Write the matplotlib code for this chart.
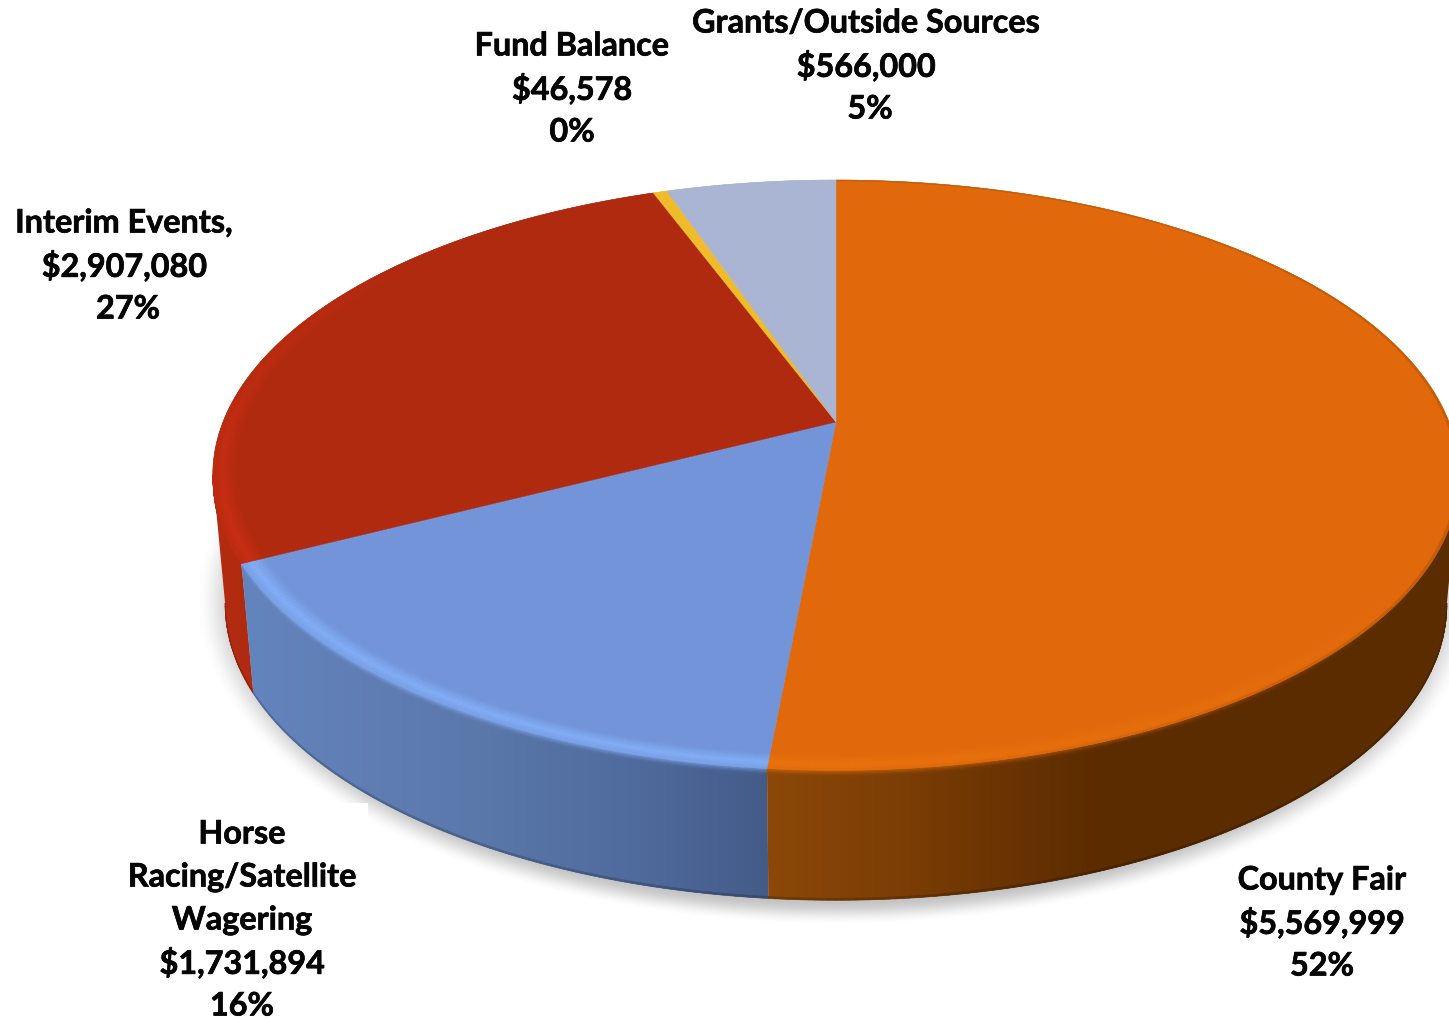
import numpy as np
import matplotlib
matplotlib.use("Agg")
import matplotlib.pyplot as plt
import matplotlib.patheffects as pe
from matplotlib.collections import PolyCollection
from matplotlib.colors import to_rgb
from matplotlib.patches import Polygon

# Revenue sources, clockwise from twelve o'clock
names = ["County Fair", "Horse\nRacing/Satellite\nWagering", "Interim Events,",
         "Fund Balance", "Grants/Outside Sources"]
amounts = [5569999, 1731894, 2907080, 46578, 566000]
shares = [52, 16, 27, 0, 5]

top_colors = ["#e1690b", "#7394d8", "#b02a10", "#efbb2a", "#a9b5d3"]
bevel_colors = ["#ea730d", "#82aef6", "#ca2e12", "#efbb2a", "#a9b5d3"]
side_stops = [
    ([770, 900, 1000, 1100, 1449], ["#8b4808", "#7c3e05", "#6b3403", "#5b2c00", "#5c2d00"]),
    ([245, 480, 640, 770], ["#6484be", "#5b78ab", "#4f6a9c", "#445b88"]),
    ([200, 260], ["#b62d11", "#ae2a10"]),
    ([0, 1449], ["#c79a20", "#c79a20"]),
    ([0, 1449], ["#8490aa", "#8490aa"]),
]
label_anchor = [(1322, 880), (242, 834), (124, 223), (572, 46), (866, 23)]
share_nudge = [0, 0, 4, 0, 4]
LINE_PITCH = 43

# Tilted disc: unit circle projected through a homography
CX, RX, B, A, K = 836.0, 613.0, 422.0, -209.6, 0.18
DEPTH, FOOT_SCALE = 130.0, 0.98

# The outer wall only faces the viewer between the disc's two silhouette points
FRONT_START = np.arccos(-K)
FRONT_END = 2 * np.pi - FRONT_START


def project(theta, r=1.0, dy=0.0, sx=1.0):
    u, v = r * np.sin(theta), r * np.cos(theta)
    w = 1 + K * v
    return CX + sx * RX * u / w, (A * v + B) / w + dy


def wall(theta, s):
    return project(theta, 1.0, DEPTH * s, 1 + (FOOT_SCALE - 1) * s)


def lerp(c0, c1, t):
    return tuple(np.array(c0) * (1 - t) + np.array(c1) * t)


def side_color(i, x):
    xs, cols = side_stops[i]
    rgb = np.array([to_rgb(c) for c in cols])
    return tuple(np.interp(x, xs, rgb[:, k]) for k in range(3))


def glow_at(theta):
    return np.clip(-np.cos(theta) * 0.8 - np.sin(theta) * 0.6 + 0.1, 0, 1)


plt.rcParams["font.family"] = ["Lato", "DejaVu Sans"]
fig = plt.figure(figsize=(14.49, 10.19), dpi=100, facecolor="white")
ax = fig.add_axes([0, 0, 1, 1])
ax.axis("off")

# Soft ground shadow under the disc
gy, gx = np.mgrid[0:1019, 0:1449]
rad = np.hypot((gx + 0.5 - 836) / 640, (gy + 0.5 - 600) / 325)
fade = np.clip((1 - rad) / 0.075, 0, 1)
fade = fade * fade * (3 - 2 * fade)
shadow = np.zeros((1019, 1449, 4))
shadow[..., :3] = 0.35
shadow[..., 3] = fade * 0.36
ax.imshow(shadow, extent=(0, 1449, 1019, 0), zorder=1, aspect="auto", interpolation="bilinear")

# White plate behind the lower-left label
ax.fill_between([112, 368], 803, 1019, color="white", lw=0, zorder=2)

edges = np.concatenate([[0], np.cumsum(amounts)]) / np.sum(amounts) * 2 * np.pi

# Side wall: a horizontal colour ramp clipped to each slice's outer face
ramp_x = np.arange(1449) + 0.5
wall_spans = {}
for order, i in enumerate([2, 1, 0]):
    start = max(edges[i], FRONT_START)
    stop = min(edges[i + 1], FRONT_END)
    wall_spans[i] = (start, stop)
    th = np.linspace(start, stop, 300)
    xt, yt = wall(th, 0.0)
    xb, yb = wall(th, 1.0)
    outline = np.c_[np.r_[xt, xb[::-1]], np.r_[yt, yb[::-1]]]
    ramp = np.array(side_color(i, ramp_x)).T[None, :, :]
    im = ax.imshow(ramp, extent=(0, 1449, 1019, 0), zorder=3 + order * 0.01,
                   aspect="auto", interpolation="bilinear")
    clip = Polygon(outline, closed=True, transform=ax.transData, fc="none", ec="none")
    ax.add_patch(clip)
    im.set_clip_path(clip)

# Highlight fading down from the rim and a dark line along the foot of the wall
side_polys, side_cols = [], []
fade_levels = np.linspace(0, 0.05, 6)
for i in [2, 1, 0]:
    start, stop = wall_spans[i]
    th = np.linspace(start, stop, max(3, int((stop - start) * 110)))
    for t0, t1 in zip(th[:-1], th[1:]):
        tm = 0.5 * (t0 + t1)
        xm = wall(tm, 0.5)[0]
        plain = side_color(i, xm)
        for s0, s1 in zip(fade_levels[:-1], fade_levels[1:]):
            pts = [wall(t0, s0), wall(t1, s0), wall(t1, s1), wall(t0, s1)]
            weight = glow_at(tm) * (1 - (s0 + s1) / 2 / 0.05) ** 1.5 * 0.75
            side_polys.append(pts)
            side_cols.append(lerp(plain, to_rgb(bevel_colors[i]), weight))
        pts = [wall(t0, 0.985), wall(t1, 0.985), wall(t1, 1.0), wall(t0, 1.0)]
        side_polys.append(pts)
        side_cols.append(lerp(plain, (0, 0, 0), 0.2))
ax.add_collection(PolyCollection(side_polys, facecolors=side_cols, edgecolors=side_cols,
                                 linewidths=0.5, zorder=3.5))

# Top face wedges
for i in range(5):
    th = np.linspace(edges[i], edges[i + 1], 300)
    x, y = project(th)
    ax.fill(np.r_[CX, x], np.r_[B, y], color=top_colors[i], lw=0.3, zorder=4)

# Bevel band along the rim of the top face
band_r = np.linspace(0.962, 1.0, 10)
band_polys, band_cols = [], []
for i in range(5):
    th = np.linspace(edges[i], edges[i + 1], max(3, int((edges[i + 1] - edges[i]) * 110)))
    base, hi = to_rgb(top_colors[i]), to_rgb(bevel_colors[i])
    for t0, t1 in zip(th[:-1], th[1:]):
        tm = 0.5 * (t0 + t1)
        glow = glow_at(tm)
        for r0, r1 in zip(band_r[:-1], band_r[1:]):
            rm = 0.5 * (r0 + r1)
            prof = np.clip(1 - abs(rm - 0.985) / (0.023 if rm < 0.985 else 0.03), 0, 1)
            col = lerp(base, hi, glow * prof)
            if rm > 0.995 and i == 0:
                col = lerp(col, side_color(0, 1200), 0.22 * (1 - glow))
            band_polys.append([project(t0, r0), project(t1, r0), project(t1, r1), project(t0, r1)])
            band_cols.append(col)
ax.add_collection(PolyCollection(band_polys, facecolors=band_cols, edgecolors=band_cols,
                                 linewidths=0.3, zorder=5))

# Slice labels, one text per line at a fixed pitch
for name, amount, share, nudge, (lx, ly) in zip(names, amounts, shares, share_nudge, label_anchor):
    lines = name.split("\n") + [f"${amount:,}", f"{share}%"]
    for j, line in enumerate(lines):
        dx = nudge if j == len(lines) - 1 else 0
        ax.text(lx + dx, ly + j * LINE_PITCH, line, ha="center", va="center", fontsize=23.3,
                fontweight="bold", color="#050505", zorder=6,
                path_effects=[pe.withStroke(linewidth=0.5, foreground="#050505")])

ax.set_xlim(0, 1449)
ax.set_ylim(1019, 0)
fig.savefig("out.png", dpi=100, facecolor="white")
